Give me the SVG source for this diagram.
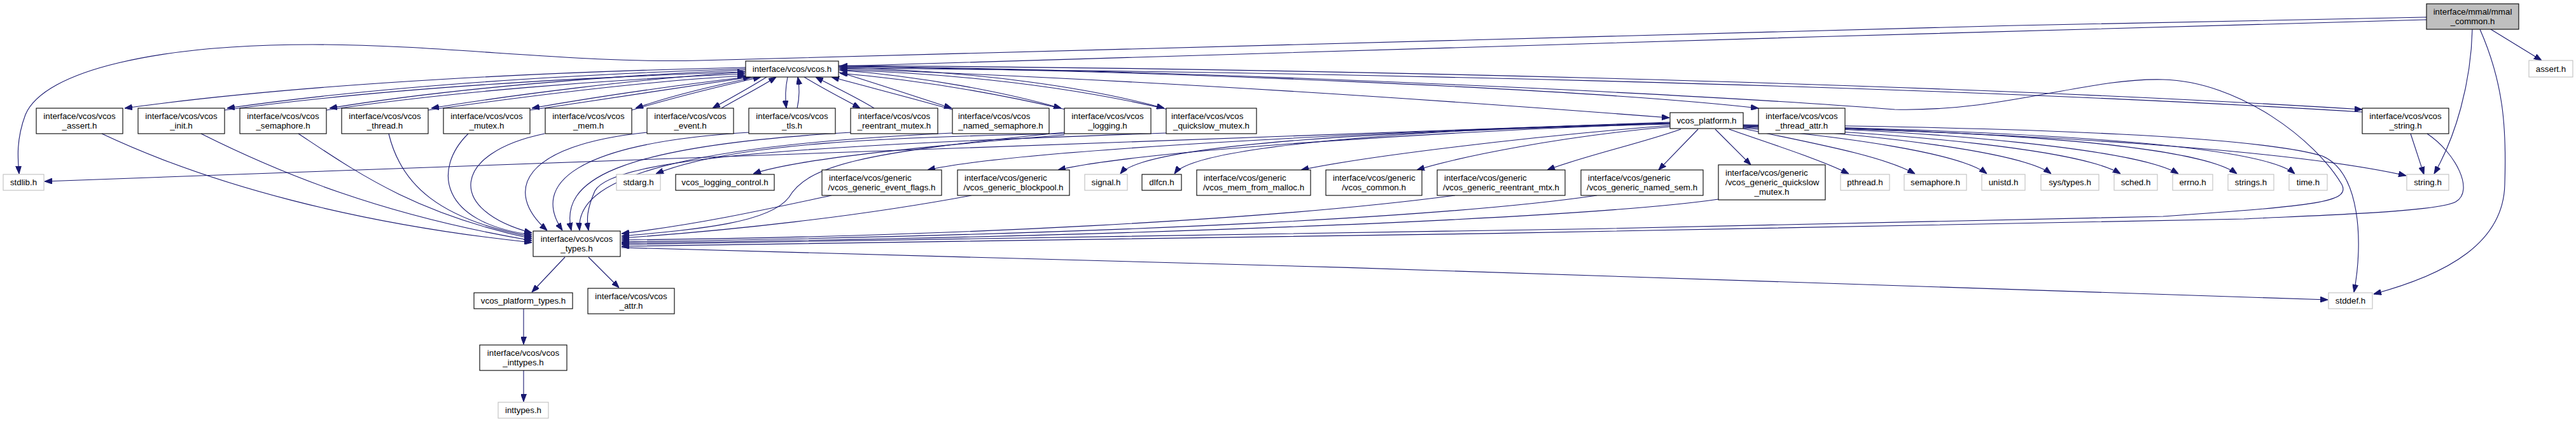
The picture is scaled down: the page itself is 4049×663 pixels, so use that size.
<svg xmlns="http://www.w3.org/2000/svg" width="4049" height="663" viewBox="0 0 4049 663">
<defs>
<style>
text{font-family:"Liberation Sans",Arial,sans-serif;font-size:13.33px;fill:#000}
.m{text-anchor:middle}
.n rect{fill:#fff;stroke:#000;stroke-width:1.1}
.s rect{fill:#fff;stroke:#bfbfbf;stroke-width:1.1}
.root rect{fill:#bfbfbf;stroke:#000;stroke-width:1.1}
#edges path{fill:none;stroke:#191970;stroke-width:1.1;marker-end:url(#a)}
</style>
<marker id="a" viewBox="0 0 12 9" refX="12" refY="4.5" markerWidth="12" markerHeight="9" markerUnits="userSpaceOnUse" orient="auto"><path d="M0,0 L12,4.5 L0,9 z" fill="#191970" stroke="#191970" stroke-width="1"/></marker>
</defs>
<rect width="4049" height="663" fill="#fff"/>
<g id="edges">
<path d="M3814,31 C3000,52 2000,84 1320,104"/>
<path d="M3814,27 C2800,45 1600,80 1100,95 C900,100 700,70 491,70 C250,70 70,110 40,180 C25,220 28,250 30,273"/>
<path d="M3915,46 L3995,95"/>
<path d="M3886,46 C3884,130 3860,215 3826,273"/>
<path d="M3898,46 C3935,130 3940,200 3937,290 C3935,380 3850,430 3731,462"/>
<path d="M1172,106 C900,112 500,128 196,170"/>
<path d="M1172,108 C900,117 600,135 357,170"/>
<path d="M353,173 C600,139 900,122 1171,113"/>
<path d="M1172,110 C950,119 700,140 518,170"/>
<path d="M513,173 C700,145 950,125 1171,116"/>
<path d="M1172,113 C1000,124 800,150 678,170"/>
<path d="M673,173 C800,155 1000,128 1171,119"/>
<path d="M1174,121 C1080,132 950,150 836,170"/>
<path d="M833,173 C950,156 1070,137 1180,121"/>
<path d="M1188,121 C1110,137 1050,152 999,170"/>
<path d="M993,173 C1050,156 1120,138 1196,121"/>
<path d="M1205,121 C1180,137 1150,153 1120,170"/>
<path d="M1134,170 C1165,152 1195,137 1220,121"/>
<path d="M1238,121 C1234,140 1234,155 1236,170"/>
<path d="M1253,170 C1257,152 1257,137 1254,121"/>
<path d="M1264,121 C1295,140 1325,155 1352,170"/>
<path d="M1374,170 C1345,152 1310,136 1282,121"/>
<path d="M1318,113 C1380,132 1440,152 1496,170"/>
<path d="M1500,173 C1440,156 1370,138 1307,121"/>
<path d="M1318,110 C1450,120 1580,145 1668,170"/>
<path d="M1675,172 C1580,150 1450,126 1320,115"/>
<path d="M1318,106 C1550,112 1720,140 1830,170"/>
<path d="M1836,172 C1720,145 1550,117 1320,110"/>
<path d="M1318,108 C1800,125 2300,160 2624,185"/>
<path d="M1318,105 C1800,110 2500,140 2764,170"/>
<path d="M1318,103 C2000,107 3000,128 3713,172"/>
<path d="M3713,176 C3000,132 2000,112 1320,107"/>
<path d="M1318,104 C1900,110 2700,150 2978,172 C3150,176 3280,122 3400,125 C3520,128 3640,220 3681,290 C3695,318 3640,323 3400,340 C2600,360 1600,376 977,384"/>
<path d="M3789,210 L3810,274"/>
<path d="M3815,210 C3860,240 3890,300 3860,317 C3830,333 3650,338 3527,344 C2800,362 1600,378 977,387"/>
<path d="M160,210 C330,290 560,352 836,381"/>
<path d="M316,210 C440,272 600,338 836,378"/>
<path d="M469,210 C560,270 650,335 836,375"/>
<path d="M611,210 C630,290 690,345 836,372"/>
<path d="M736,210 C680,265 690,350 836,369"/>
<path d="M856,210 C710,240 700,330 836,366"/>
<path d="M1017,208 C820,228 790,300 860,362"/>
<path d="M1177,208 C900,225 835,290 884,362"/>
<path d="M1337,208 C960,230 880,285 898,362"/>
<path d="M1497,209 C1000,232 905,295 911,362"/>
<path d="M1833,209 C1300,228 965,245 935,300 C922,330 922,345 925,362"/>
<path d="M1673,208 C1350,240 1270,260 1240,310 C1210,350 1100,360 977,371"/>
<path d="M1307,307 C1200,330 1100,352 977,367"/>
<path d="M1527,307 C1350,340 1150,362 977,374"/>
<path d="M2287,307 C2000,345 1500,372 977,377"/>
<path d="M2510,307 C2300,338 1800,368 977,380"/>
<path d="M2701,313 C2500,342 1800,372 977,382"/>
<path d="M1673,210 C1400,215 1150,225 1031,273"/>
<path d="M1673,212 C1450,230 1250,250 1184,273"/>
<path d="M2625,192 L70,285"/>
<path d="M2625,193 C2200,205 1600,235 1458,267"/>
<path d="M2625,194 C2300,205 1800,235 1663,267"/>
<path d="M2625,195 C2200,205 1800,225 1761,273"/>
<path d="M2625,194 C2300,200 1880,225 1846,273"/>
<path d="M2625,197 C2400,215 2150,245 2045,267"/>
<path d="M2625,199 C2450,215 2300,245 2227,267"/>
<path d="M2642,203 C2580,225 2490,245 2432,267"/>
<path d="M2669,203 L2607,267"/>
<path d="M2696,203 L2752,259"/>
<path d="M2718,203 C2780,225 2860,250 2906,273"/>
<path d="M2740,202 C2850,225 2960,245 3010,273"/>
<path d="M2740,201 C2900,215 3080,240 3123,273"/>
<path d="M2740,200 C2950,210 3180,240 3224,273"/>
<path d="M2740,199 C3000,210 3270,235 3333,273"/>
<path d="M2740,198 C3050,205 3360,235 3424,273"/>
<path d="M2740,198 C3100,205 3450,225 3516,273"/>
<path d="M2740,197 C3150,205 3550,225 3607,273"/>
<path d="M2740,197 C3200,210 3600,235 3782,276"/>
<path d="M2740,196 C3200,200 3550,215 3650,245 C3710,270 3715,380 3700,459"/>
<path d="M888,404 L836,459"/>
<path d="M925,404 L973,452"/>
<path d="M823,485 L823,541"/>
<path d="M823,582 L823,631"/>
<path d="M977,389 C1800,410 3000,445 3659,471"/>
</g>
<g id="mmal_common" class="root"><rect x="3814" y="6" width="145" height="40"/><text class="m" x="3886.5" y="23">interface/mmal/mmal</text><text class="m" x="3886.5" y="38">_common.h</text></g>
<g id="vcos" class="n"><rect x="1172" y="96" width="146" height="25"/><text class="m" x="1245" y="113">interface/vcos/vcos.h</text></g>
<g id="assert" class="s"><rect x="3975" y="95" width="69" height="26"/><text class="m" x="4009.5" y="112.5">assert.h</text></g>
<g id="vcos_assert" class="n"><rect x="57" y="170" width="136" height="40"/><text class="m" x="125" y="187">interface/vcos/vcos</text><text class="m" x="125" y="202">_assert.h</text></g>
<g id="vcos_init" class="n"><rect x="217" y="170" width="136" height="40"/><text class="m" x="285" y="187">interface/vcos/vcos</text><text class="m" x="285" y="202">_init.h</text></g>
<g id="vcos_semaphore" class="n"><rect x="377" y="170" width="136" height="40"/><text class="m" x="445" y="187">interface/vcos/vcos</text><text class="m" x="445" y="202">_semaphore.h</text></g>
<g id="vcos_thread" class="n"><rect x="537" y="170" width="136" height="40"/><text class="m" x="605" y="187">interface/vcos/vcos</text><text class="m" x="605" y="202">_thread.h</text></g>
<g id="vcos_mutex" class="n"><rect x="697" y="170" width="136" height="40"/><text class="m" x="765" y="187">interface/vcos/vcos</text><text class="m" x="765" y="202">_mutex.h</text></g>
<g id="vcos_mem" class="n"><rect x="857" y="170" width="136" height="40"/><text class="m" x="925" y="187">interface/vcos/vcos</text><text class="m" x="925" y="202">_mem.h</text></g>
<g id="vcos_event" class="n"><rect x="1017" y="170" width="136" height="40"/><text class="m" x="1085" y="187">interface/vcos/vcos</text><text class="m" x="1085" y="202">_event.h</text></g>
<g id="vcos_tls" class="n"><rect x="1177" y="170" width="136" height="40"/><text class="m" x="1245" y="187">interface/vcos/vcos</text><text class="m" x="1245" y="202">_tls.h</text></g>
<g id="vcos_reentrant_mutex" class="n"><rect x="1337" y="170" width="137" height="40"/><text class="m" x="1405.5" y="187">interface/vcos/vcos</text><text class="m" x="1405.5" y="202">_reentrant_mutex.h</text></g>
<g id="vcos_named_semaphore" class="n"><rect x="1497" y="170" width="152" height="40"/><text x="1506" y="187">interface/vcos/vcos</text><text class="m" x="1573" y="202">_named_semaphore.h</text></g>
<g id="vcos_logging" class="n"><rect x="1673" y="170" width="136" height="40"/><text class="m" x="1741" y="187">interface/vcos/vcos</text><text class="m" x="1741" y="202">_logging.h</text></g>
<g id="vcos_quickslow_mutex" class="n"><rect x="1833" y="170" width="142" height="40"/><text x="1841" y="187">interface/vcos/vcos</text><text class="m" x="1904" y="202">_quickslow_mutex.h</text></g>
<g id="vcos_platform" class="n"><rect x="2625" y="177" width="115" height="25"/><text class="m" x="2682.5" y="194">vcos_platform.h</text></g>
<g id="vcos_thread_attr" class="n"><rect x="2764" y="170" width="136" height="40"/><text class="m" x="2832" y="187">interface/vcos/vcos</text><text class="m" x="2832" y="202">_thread_attr.h</text></g>
<g id="vcos_string" class="n"><rect x="3713" y="170" width="136" height="40"/><text class="m" x="3781" y="187">interface/vcos/vcos</text><text class="m" x="3781" y="202">_string.h</text></g>
<g id="stdlib" class="s"><rect x="5" y="274" width="64" height="25"/><text class="m" x="37" y="291">stdlib.h</text></g>
<g id="stdarg" class="s"><rect x="969" y="274" width="69" height="25"/><text class="m" x="1003.5" y="291">stdarg.h</text></g>
<g id="vcos_logging_control" class="n"><rect x="1062" y="274" width="155" height="25"/><text class="m" x="1139.5" y="291">vcos_logging_control.h</text></g>
<g id="generic_event_flags" class="n"><rect x="1292" y="267" width="188" height="40"/><text x="1303" y="284">interface/vcos/generic</text><text class="m" x="1386" y="299">/vcos_generic_event_flags.h</text></g>
<g id="generic_blockpool" class="n"><rect x="1505" y="267" width="176" height="40"/><text x="1516" y="284">interface/vcos/generic</text><text class="m" x="1593" y="299">/vcos_generic_blockpool.h</text></g>
<g id="signal" class="s"><rect x="1705" y="274" width="67" height="25"/><text class="m" x="1738.5" y="291">signal.h</text></g>
<g id="dlfcn" class="n"><rect x="1795" y="274" width="62" height="25"/><text class="m" x="1826" y="291">dlfcn.h</text></g>
<g id="mem_from_malloc" class="n"><rect x="1881" y="267" width="179" height="40"/><text x="1892" y="284">interface/vcos/generic</text><text class="m" x="1970.5" y="299">/vcos_mem_from_malloc.h</text></g>
<g id="vcos_common" class="n"><rect x="2084" y="267" width="151" height="40"/><text x="2095" y="284">interface/vcos/generic</text><text class="m" x="2159.5" y="299">/vcos_common.h</text></g>
<g id="generic_reentrant_mtx" class="n"><rect x="2259" y="267" width="201" height="40"/><text x="2270" y="284">interface/vcos/generic</text><text class="m" x="2359.5" y="299">/vcos_generic_reentrant_mtx.h</text></g>
<g id="generic_named_sem" class="n"><rect x="2485" y="267" width="192" height="40"/><text x="2496" y="284">interface/vcos/generic</text><text class="m" x="2581" y="299">/vcos_generic_named_sem.h</text></g>
<g id="generic_quickslow_mutex" class="n"><rect x="2701" y="259" width="168" height="55"/><text x="2712" y="276">interface/vcos/generic</text><text x="2712" y="291">/vcos_generic_quickslow</text><text class="m" x="2785" y="306">_mutex.h</text></g>
<g id="pthread" class="s"><rect x="2893" y="274" width="77" height="25"/><text class="m" x="2931.5" y="291">pthread.h</text></g>
<g id="semaphore" class="s"><rect x="2993" y="274" width="98" height="25"/><text class="m" x="3042" y="291">semaphore.h</text></g>
<g id="unistd" class="s"><rect x="3115" y="274" width="68" height="25"/><text class="m" x="3149" y="291">unistd.h</text></g>
<g id="sys_types" class="s"><rect x="3208" y="274" width="91" height="25"/><text class="m" x="3253.5" y="291">sys/types.h</text></g>
<g id="sched" class="s"><rect x="3323" y="274" width="68" height="25"/><text class="m" x="3357" y="291">sched.h</text></g>
<g id="errno" class="s"><rect x="3415" y="274" width="63" height="25"/><text class="m" x="3446.5" y="291">errno.h</text></g>
<g id="strings" class="s"><rect x="3502" y="274" width="72" height="25"/><text class="m" x="3538" y="291">strings.h</text></g>
<g id="time" class="s"><rect x="3598" y="274" width="60" height="25"/><text class="m" x="3628" y="291">time.h</text></g>
<g id="string" class="s"><rect x="3783" y="274" width="66" height="25"/><text class="m" x="3816" y="291">string.h</text></g>
<g id="vcos_types" class="n"><rect x="838" y="363" width="137" height="40"/><text class="m" x="906.5" y="380">interface/vcos/vcos</text><text class="m" x="906.5" y="395">_types.h</text></g>
<g id="vcos_platform_types" class="n"><rect x="745" y="460" width="155" height="25"/><text class="m" x="822.5" y="477">vcos_platform_types.h</text></g>
<g id="vcos_attr" class="n"><rect x="924" y="453" width="136" height="40"/><text class="m" x="992" y="470">interface/vcos/vcos</text><text class="m" x="992" y="485">_attr.h</text></g>
<g id="vcos_inttypes" class="n"><rect x="754" y="542" width="137" height="40"/><text class="m" x="822.5" y="559">interface/vcos/vcos</text><text class="m" x="822.5" y="574">_inttypes.h</text></g>
<g id="inttypes" class="s"><rect x="783" y="632" width="79" height="25"/><text class="m" x="822.5" y="649">inttypes.h</text></g>
<g id="stddef" class="s"><rect x="3660" y="460" width="69" height="25"/><text class="m" x="3694.5" y="477">stddef.h</text></g>
</svg>
